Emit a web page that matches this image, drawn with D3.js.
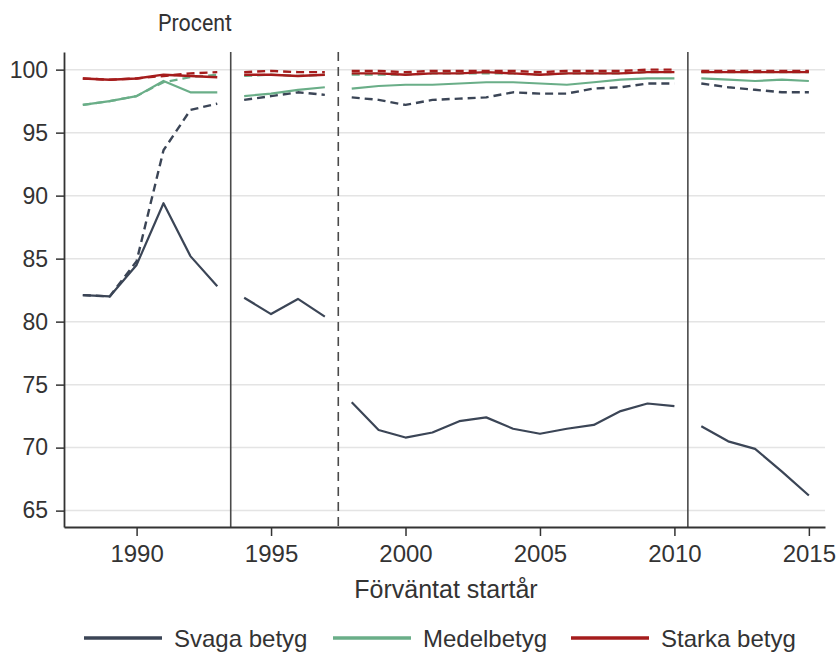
<!DOCTYPE html>
<html lang="sv">
<head>
<meta charset="utf-8">
<title>Procent</title>
<script src="https://d3js.org/d3.v7.min.js"></script>
<style>
  body { margin: 0; background: #fff; }
  text { font-family: "Liberation Sans", Arial, sans-serif; fill: #333; }
</style>
</head>
<body>
<div id="chart"></div>
<script>
// perioder (segment) med år
const segYears = [
  [1988, 1989, 1990, 1991, 1992, 1993],
  [1994, 1995, 1996, 1997],
  [1998, 1999, 2000, 2001, 2002, 2003, 2004, 2005, 2006, 2007, 2008, 2009, 2010],
  [2011, 2012, 2013, 2014, 2015]
];

// heldragna linjer
const svagaSolid = [
  [82.1, 82.0, 84.5, 89.4, 85.2, 82.8],
  [81.9, 80.6, 81.8, 80.4],
  [73.6, 71.4, 70.8, 71.2, 72.1, 72.4, 71.5, 71.1, 71.5, 71.8, 72.9, 73.5, 73.3],
  [71.7, 70.5, 69.9, 68.1, 66.2]
];
const medelSolid = [
  [97.2, 97.5, 97.9, 99.1, 98.2, 98.2],
  [97.9, 98.1, 98.4, 98.6],
  [98.5, 98.7, 98.8, 98.8, 98.9, 99.0, 99.0, 98.9, 98.8, 99.0, 99.2, 99.3, 99.3],
  [99.3, 99.2, 99.1, 99.2, 99.1]
];
const starkaSolid = [
  [99.3, 99.2, 99.3, 99.6, 99.5, 99.4],
  [99.6, 99.6, 99.5, 99.6],
  [99.7, 99.7, 99.6, 99.7, 99.7, 99.8, 99.7, 99.6, 99.7, 99.7, 99.7, 99.8, 99.8],
  [99.8, 99.8, 99.8, 99.8, 99.8]
];

// streckade linjer
const svagaDash = [
  [82.1, 82.0, 84.8, 93.6, 96.8, 97.3],
  [97.6, 97.9, 98.2, 98.0],
  [97.8, 97.6, 97.2, 97.6, 97.7, 97.8, 98.2, 98.1, 98.1, 98.5, 98.6, 98.9, 98.9],
  [98.9, 98.6, 98.4, 98.2, 98.2]
];
const medelDash = [
  [97.2, 97.5, 97.9, 99.0, 99.4, 99.6],
  [99.5, 99.6, 99.5, 99.6],
  [99.6, 99.6, 99.6, 99.7, 99.7, 99.7, 99.7, 99.6, 99.7, 99.7, 99.7, 99.8, 99.8],
  [99.8, 99.8, 99.8, 99.8, 99.8]
];
const starkaDash = [
  [99.3, 99.2, 99.3, 99.5, 99.7, 99.8],
  [99.8, 99.9, 99.8, 99.8],
  [99.9, 99.9, 99.8, 99.9, 99.9, 99.9, 99.9, 99.8, 99.9, 99.9, 99.9, 100.0, 100.0],
  [99.9, 99.9, 99.9, 99.9, 99.9]
];

const yTicks = [65, 70, 75, 80, 85, 90, 95, 100];
const xTicks = [1990, 1995, 2000, 2005, 2010, 2015];
const breaksSolid = [1993.5, 2010.5];
const breaksDash = [1997.5];
const legendNames = ["Svaga betyg", "Medelbetyg", "Starka betyg"];

const colors = { svaga: "#3b4556", medel: "#6aae88", starka: "#a51c1c" };

const width = 840, height = 653;
const margin = { top: 52, right: 15, bottom: 126, left: 64 };

const svg = d3.select("#chart").append("svg")
  .attr("width", width)
  .attr("height", height);

const x = d3.scaleLinear()
  .domain([1987.3, 2015.6])
  .range([margin.left, width - margin.right]);

const y = d3.scaleLinear()
  .domain([63.7, 101.4])
  .range([height - margin.bottom, margin.top]);

// rutnät
svg.append("g")
  .selectAll("line")
  .data(yTicks)
  .join("line")
  .attr("x1", margin.left)
  .attr("x2", width - margin.right)
  .attr("y1", d => y(d))
  .attr("y2", d => y(d))
  .attr("stroke", "#e4e4e4")
  .attr("stroke-width", 1.5);

// brytlinjer
svg.append("g")
  .selectAll("line")
  .data(breaksSolid.map(v => ({ v, dash: null })).concat(breaksDash.map(v => ({ v, dash: "9,6" }))))
  .join("line")
  .attr("x1", d => x(d.v))
  .attr("x2", d => x(d.v))
  .attr("y1", margin.top)
  .attr("y2", height - margin.bottom)
  .attr("stroke", "#4a4a4a")
  .attr("stroke-width", 1.6)
  .attr("stroke-dasharray", d => d.dash);

// axlar
const xAxis = svg.append("g")
  .attr("transform", `translate(0, ${height - margin.bottom})`)
  .call(d3.axisBottom(x).tickValues(xTicks).tickFormat(d3.format("d")).tickSize(9).tickSizeOuter(0).tickPadding(9));
xAxis.select(".domain").attr("stroke", "#333").attr("stroke-width", 1.8);
xAxis.selectAll(".tick line").attr("stroke", "#333").attr("stroke-width", 1.5);
xAxis.selectAll("text").style("font-size", "24px").attr("fill", "#333");

const yAxis = svg.append("g")
  .attr("transform", `translate(${margin.left}, 0)`)
  .call(d3.axisLeft(y).tickValues(yTicks).tickSize(8).tickSizeOuter(0).tickPadding(8));
yAxis.select(".domain").attr("stroke", "#333").attr("stroke-width", 1.8);
yAxis.selectAll(".tick line").attr("stroke", "#333").attr("stroke-width", 1.5);
yAxis.selectAll("text").style("font-size", "23px").attr("fill", "#333");

// linjer
const line = d3.line()
  .x(d => x(d[0]))
  .y(d => y(d[1]));

const series = [
  { vals: svagaSolid, color: colors.svaga, dash: null, w: 2.2 },
  { vals: svagaDash, color: colors.svaga, dash: "8,5", w: 2.4 },
  { vals: medelSolid, color: colors.medel, dash: null, w: 2.2 },
  { vals: medelDash, color: colors.medel, dash: "8,5", w: 2.2 },
  { vals: starkaSolid, color: colors.starka, dash: null, w: 2.4 },
  { vals: starkaDash, color: colors.starka, dash: "8,5", w: 2.4 }
];

series.forEach(s => {
  s.vals.forEach((vals, i) => {
    const pts = segYears[i].map((yr, j) => [yr, vals[j]]);
    svg.append("path")
      .datum(pts)
      .attr("d", line)
      .attr("fill", "none")
      .attr("stroke", s.color)
      .attr("stroke-width", s.w)
      .attr("stroke-dasharray", s.dash)
      .attr("stroke-linejoin", "round");
  });
});

// titlar
svg.append("text")
  .attr("x", 158)
  .attr("y", 31)
  .attr("textLength", 74)
  .attr("lengthAdjust", "spacingAndGlyphs")
  .style("font-family", "Roboto, sans-serif")
  .style("font-size", "24px")
  .attr("fill", "#111")
  .text("Procent");

svg.append("text")
  .attr("x", 446)
  .attr("y", 598)
  .attr("text-anchor", "middle")
  .style("font-size", "25px")
  .text("Förväntat startår");

// legend
const legendX = [84, 333, 571];
const legend = svg.append("g")
  .selectAll("g")
  .data(legendNames)
  .join("g")
  .attr("transform", (d, i) => `translate(${legendX[i]}, 638)`);

legend.append("line")
  .attr("x1", 0).attr("x2", 78)
  .attr("stroke", (d, i) => [colors.svaga, colors.medel, colors.starka][i])
  .attr("stroke-width", 3.5);

legend.append("text")
  .attr("x", 90)
  .attr("y", 9)
  .style("font-size", "24px")
  .text(d => d);
</script>
</body>
</html>
